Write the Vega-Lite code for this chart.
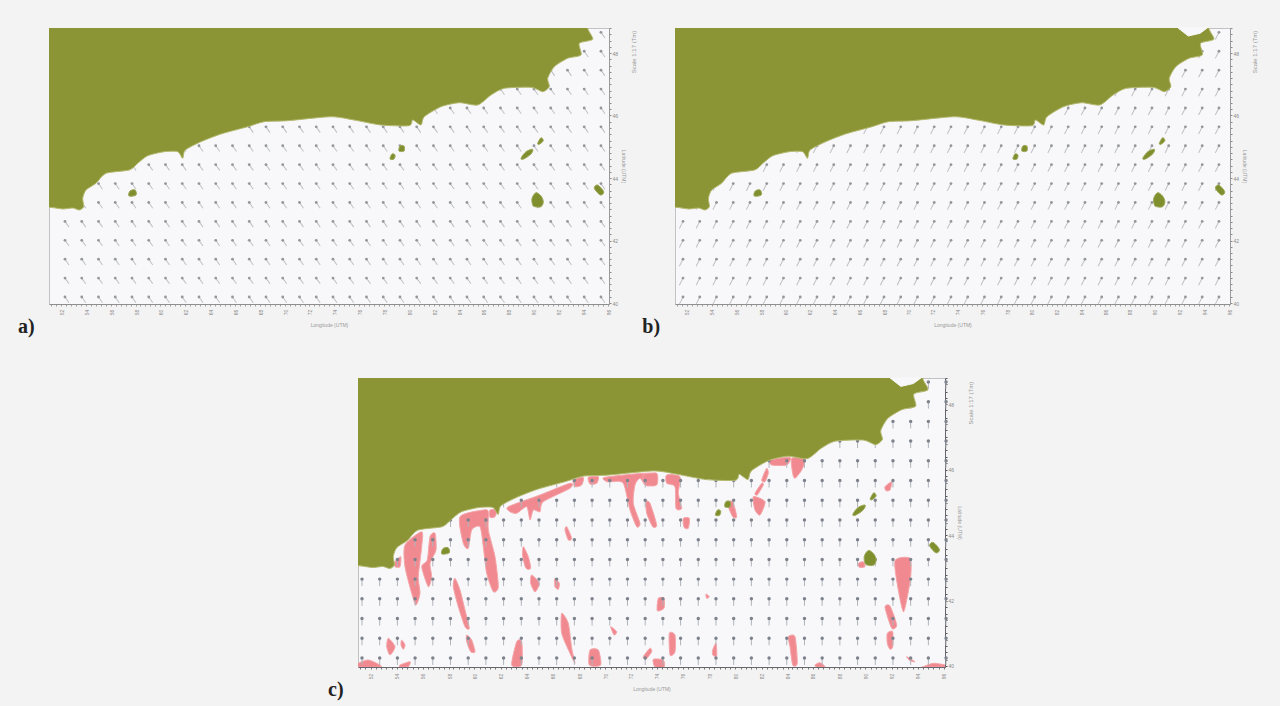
{"$schema":"https://vega.github.io/schema/vega-lite/v6.json","background":"#f3f3f3","padding":{"left":17,"top":25,"right":60,"bottom":20},"config":{"view":{"stroke":"#c2c2c4","fill":"#f8f8fa"},"axis":{"grid":false,"labelOverlap":false,"labelBound":false,"labelFlush":false}},
"datasets":{
"grid":[{"k":0,"j":0},{"k":1,"j":0},{"k":2,"j":0},{"k":3,"j":0},{"k":4,"j":0},{"k":5,"j":0},{"k":6,"j":0},{"k":7,"j":0},{"k":8,"j":0},{"k":9,"j":0},{"k":10,"j":0},{"k":11,"j":0},{"k":12,"j":0},{"k":13,"j":0},{"k":14,"j":0},{"k":15,"j":0},{"k":16,"j":0},{"k":17,"j":0},{"k":18,"j":0},{"k":19,"j":0},{"k":20,"j":0},{"k":21,"j":0},{"k":22,"j":0},{"k":23,"j":0},{"k":24,"j":0},{"k":25,"j":0},{"k":26,"j":0},{"k":27,"j":0},{"k":28,"j":0},{"k":29,"j":0},{"k":30,"j":0},{"k":31,"j":0},{"k":32,"j":0},{"k":33,"j":0},
{"k":0,"j":1},{"k":1,"j":1},{"k":2,"j":1},{"k":3,"j":1},{"k":4,"j":1},{"k":5,"j":1},{"k":6,"j":1},{"k":7,"j":1},{"k":8,"j":1},{"k":9,"j":1},{"k":10,"j":1},{"k":11,"j":1},{"k":12,"j":1},{"k":13,"j":1},{"k":14,"j":1},{"k":15,"j":1},{"k":16,"j":1},{"k":17,"j":1},{"k":18,"j":1},{"k":19,"j":1},{"k":20,"j":1},{"k":21,"j":1},{"k":22,"j":1},{"k":23,"j":1},{"k":24,"j":1},{"k":25,"j":1},{"k":26,"j":1},{"k":27,"j":1},{"k":28,"j":1},{"k":29,"j":1},{"k":30,"j":1},{"k":31,"j":1},{"k":32,"j":1},{"k":33,"j":1},
{"k":0,"j":2},{"k":1,"j":2},{"k":2,"j":2},{"k":3,"j":2},{"k":4,"j":2},{"k":5,"j":2},{"k":6,"j":2},{"k":7,"j":2},{"k":8,"j":2},{"k":9,"j":2},{"k":10,"j":2},{"k":11,"j":2},{"k":12,"j":2},{"k":13,"j":2},{"k":14,"j":2},{"k":15,"j":2},{"k":16,"j":2},{"k":17,"j":2},{"k":18,"j":2},{"k":19,"j":2},{"k":20,"j":2},{"k":21,"j":2},{"k":22,"j":2},{"k":23,"j":2},{"k":24,"j":2},{"k":25,"j":2},{"k":26,"j":2},{"k":27,"j":2},{"k":28,"j":2},{"k":29,"j":2},{"k":30,"j":2},{"k":31,"j":2},{"k":32,"j":2},{"k":33,"j":2},
{"k":0,"j":3},{"k":1,"j":3},{"k":2,"j":3},{"k":3,"j":3},{"k":4,"j":3},{"k":5,"j":3},{"k":6,"j":3},{"k":7,"j":3},{"k":8,"j":3},{"k":9,"j":3},{"k":10,"j":3},{"k":11,"j":3},{"k":12,"j":3},{"k":13,"j":3},{"k":14,"j":3},{"k":15,"j":3},{"k":16,"j":3},{"k":17,"j":3},{"k":18,"j":3},{"k":19,"j":3},{"k":20,"j":3},{"k":21,"j":3},{"k":22,"j":3},{"k":23,"j":3},{"k":24,"j":3},{"k":25,"j":3},{"k":26,"j":3},{"k":27,"j":3},{"k":28,"j":3},{"k":29,"j":3},{"k":30,"j":3},{"k":31,"j":3},{"k":32,"j":3},{"k":33,"j":3},
{"k":0,"j":4},{"k":1,"j":4},{"k":2,"j":4},{"k":3,"j":4},{"k":4,"j":4},{"k":5,"j":4},{"k":6,"j":4},{"k":7,"j":4},{"k":8,"j":4},{"k":9,"j":4},{"k":10,"j":4},{"k":11,"j":4},{"k":12,"j":4},{"k":13,"j":4},{"k":14,"j":4},{"k":15,"j":4},{"k":16,"j":4},{"k":17,"j":4},{"k":18,"j":4},{"k":19,"j":4},{"k":20,"j":4},{"k":21,"j":4},{"k":22,"j":4},{"k":23,"j":4},{"k":24,"j":4},{"k":25,"j":4},{"k":26,"j":4},{"k":27,"j":4},{"k":28,"j":4},{"k":29,"j":4},{"k":30,"j":4},{"k":31,"j":4},{"k":32,"j":4},{"k":33,"j":4},
{"k":1,"j":5},{"k":2,"j":5},{"k":3,"j":5},{"k":4,"j":5},{"k":5,"j":5},{"k":6,"j":5},{"k":7,"j":5},{"k":8,"j":5},{"k":9,"j":5},{"k":10,"j":5},{"k":11,"j":5},{"k":12,"j":5},{"k":13,"j":5},{"k":14,"j":5},{"k":15,"j":5},{"k":16,"j":5},{"k":17,"j":5},{"k":18,"j":5},{"k":19,"j":5},{"k":20,"j":5},{"k":21,"j":5},{"k":22,"j":5},{"k":23,"j":5},{"k":24,"j":5},{"k":25,"j":5},{"k":26,"j":5},{"k":27,"j":5},{"k":28,"j":5},{"k":29,"j":5},{"k":30,"j":5},{"k":31,"j":5},{"k":32,"j":5},{"k":33,"j":5},
{"k":2,"j":6},{"k":3,"j":6},{"k":4,"j":6},{"k":5,"j":6},{"k":6,"j":6},{"k":7,"j":6},{"k":8,"j":6},{"k":9,"j":6},{"k":10,"j":6},{"k":11,"j":6},{"k":12,"j":6},{"k":13,"j":6},{"k":14,"j":6},{"k":15,"j":6},{"k":16,"j":6},{"k":17,"j":6},{"k":18,"j":6},{"k":19,"j":6},{"k":20,"j":6},{"k":21,"j":6},{"k":22,"j":6},{"k":23,"j":6},{"k":24,"j":6},{"k":25,"j":6},{"k":26,"j":6},{"k":27,"j":6},{"k":28,"j":6},{"k":29,"j":6},{"k":30,"j":6},{"k":31,"j":6},{"k":32,"j":6},{"k":33,"j":6},
{"k":4,"j":7},{"k":5,"j":7},{"k":6,"j":7},{"k":7,"j":7},{"k":8,"j":7},{"k":9,"j":7},{"k":10,"j":7},{"k":11,"j":7},{"k":12,"j":7},{"k":13,"j":7},{"k":14,"j":7},{"k":15,"j":7},{"k":16,"j":7},{"k":17,"j":7},{"k":18,"j":7},{"k":19,"j":7},{"k":20,"j":7},{"k":21,"j":7},{"k":22,"j":7},{"k":23,"j":7},{"k":24,"j":7},{"k":25,"j":7},{"k":26,"j":7},{"k":27,"j":7},{"k":28,"j":7},{"k":29,"j":7},{"k":30,"j":7},{"k":31,"j":7},{"k":32,"j":7},{"k":33,"j":7},
{"k":7,"j":8},{"k":8,"j":8},{"k":9,"j":8},{"k":10,"j":8},{"k":11,"j":8},{"k":12,"j":8},{"k":13,"j":8},{"k":14,"j":8},{"k":15,"j":8},{"k":16,"j":8},{"k":17,"j":8},{"k":18,"j":8},{"k":19,"j":8},{"k":20,"j":8},{"k":21,"j":8},{"k":22,"j":8},{"k":23,"j":8},{"k":24,"j":8},{"k":25,"j":8},{"k":26,"j":8},{"k":27,"j":8},{"k":28,"j":8},{"k":29,"j":8},{"k":30,"j":8},{"k":31,"j":8},{"k":32,"j":8},{"k":33,"j":8},
{"k":11,"j":9},{"k":12,"j":9},{"k":13,"j":9},{"k":14,"j":9},{"k":15,"j":9},{"k":16,"j":9},{"k":17,"j":9},{"k":18,"j":9},{"k":19,"j":9},{"k":20,"j":9},{"k":21,"j":9},{"k":22,"j":9},{"k":23,"j":9},{"k":24,"j":9},{"k":25,"j":9},{"k":26,"j":9},{"k":27,"j":9},{"k":28,"j":9},{"k":29,"j":9},{"k":30,"j":9},{"k":31,"j":9},{"k":32,"j":9},{"k":33,"j":9},
{"k":22,"j":10},{"k":23,"j":10},{"k":24,"j":10},{"k":25,"j":10},{"k":26,"j":10},{"k":27,"j":10},{"k":28,"j":10},{"k":29,"j":10},{"k":30,"j":10},{"k":31,"j":10},{"k":32,"j":10},{"k":33,"j":10},
{"k":25,"j":11},{"k":26,"j":11},{"k":27,"j":11},{"k":28,"j":11},{"k":29,"j":11},{"k":30,"j":11},{"k":31,"j":11},{"k":32,"j":11},{"k":33,"j":11},
{"k":28,"j":12},{"k":29,"j":12},{"k":30,"j":12},{"k":31,"j":12},{"k":32,"j":12},{"k":33,"j":12},
{"k":30,"j":13},{"k":31,"j":13},{"k":32,"j":13},{"k":33,"j":13},
{"k":32,"j":14},{"k":33,"j":14}],
"land":[{"i":-1,"x":-30,"y":96.7},{"i":0,"x":0,"y":96.7},{"i":1,"x":13.7,"y":95},{"i":2,"x":23.7,"y":96},{"i":3,"x":30.3,"y":94},{"i":4,"x":34.7,"y":97.3},{"i":5,"x":33.7,"y":105.7},{"i":6,"x":37,"y":114},{"i":7,"x":47,"y":120.7},{"i":8,"x":57,"y":130.7},{"i":9,"x":80.3,"y":134},{"i":10,"x":88.7,"y":140.7},{"i":11,"x":98.7,"y":148.3},{"i":12,"x":115.3,"y":152.3},{"i":13,"x":128.7,"y":152.3},{"i":14,"x":133.7,"y":145.7},{"i":15,"x":136.3,"y":154},{"i":16,"x":152,"y":162.3},{"i":17,"x":172,"y":170},{"i":18,"x":198.7,"y":177.3},{"i":19,"x":215.3,"y":182.3},{"i":20,"x":238.7,"y":183.3},{"i":21,"x":282,"y":187.3},{"i":22,"x":305,"y":184},{"i":23,"x":332,"y":179},{"i":24,"x":360,"y":178.3},{"i":25,"x":363.7,"y":184},{"i":26,"x":372,"y":179},{"i":27,"x":375.3,"y":187.3},{"i":28,"x":392,"y":197.3},{"i":29,"x":410.3,"y":201.3},{"i":30,"x":428.7,"y":199},{"i":31,"x":442,"y":209},{"i":32,"x":455.3,"y":215.7},{"i":33,"x":482,"y":216.7},{"i":34,"x":493.7,"y":212.3},{"i":35,"x":500.3,"y":217.3},{"i":36,"x":498.7,"y":225.7},{"i":37,"x":505.3,"y":237.3},{"i":38,"x":518.7,"y":245.7},{"i":39,"x":532,"y":249},{"i":40,"x":530.3,"y":260.7},{"i":41,"x":543.7,"y":264.7},{"i":42,"x":538.7,"y":276},{"i":43,"x":540,"y":295},{"i":44,"x":-30,"y":295}],
"bay":[{"i":0,"x":507.7,"y":276},{"i":1,"x":517.9,"y":268},{"i":2,"x":529.8,"y":270.7},{"i":3,"x":537,"y":276}],
"islands":[{"id":1,"i":0,"x":80,"y":108},{"id":1,"i":1,"x":81,"y":113},{"id":1,"i":2,"x":86,"y":114},{"id":1,"i":3,"x":87,"y":109},{"id":2,"i":0,"x":350,"y":153},{"id":2,"i":1,"x":351,"y":158},{"id":2,"i":2,"x":355,"y":158},{"id":2,"i":3,"x":355,"y":153},{"id":3,"i":0,"x":341,"y":145},{"id":3,"i":1,"x":343,"y":150},{"id":3,"i":2,"x":346,"y":149},{"id":3,"i":3,"x":345,"y":145},{"id":4,"i":0,"x":472,"y":145.7},{"id":4,"i":1,"x":477,"y":152.3},{"id":4,"i":2,"x":483.7,"y":154.7},{"id":4,"i":3,"x":482,"y":150},{"id":4,"i":4,"x":474.7,"y":145},{"id":5,"i":0,"x":488.7,"y":160.7},{"id":5,"i":1,"x":492,"y":166.3},{"id":5,"i":2,"x":494.3,"y":163.3},{"id":5,"i":3,"x":490.3,"y":159.7},{"id":6,"i":0,"x":483.7,"y":99},{"id":6,"i":1,"x":483,"y":105.7},{"id":6,"i":2,"x":487,"y":111.3},{"id":6,"i":3,"x":492,"y":108},{"id":6,"i":4,"x":494.3,"y":102.3},{"id":6,"i":5,"x":492,"y":97.3},{"id":6,"i":6,"x":486,"y":97.3},{"id":7,"i":0,"x":545.3,"y":115.7},{"id":7,"i":1,"x":548.7,"y":119},{"id":7,"i":2,"x":554.7,"y":112.3},{"id":7,"i":3,"x":551.3,"y":109}],
"pink":[{"id":1,"i":0,"x":47,"y":122},{"id":1,"i":1,"x":63.7,"y":135.3},{"id":1,"i":2,"x":63.7,"y":120.3},{"id":1,"i":3,"x":60.3,"y":90.3},{"id":1,"i":4,"x":62,"y":73.7},{"id":1,"i":5,"x":58,"y":62},{"id":1,"i":6,"x":53.7,"y":73.7},{"id":1,"i":7,"x":47,"y":100.3},
{"id":2,"i":0,"x":72,"y":130.3},{"id":2,"i":1,"x":77,"y":133.7},{"id":2,"i":2,"x":78,"y":117},{"id":2,"i":3,"x":72,"y":103.7},{"id":2,"i":4,"x":73.7,"y":90.3},{"id":2,"i":5,"x":70.3,"y":80.3},{"id":2,"i":6,"x":63.7,"y":100.3},{"id":2,"i":7,"x":69.3,"y":107},
{"id":3,"i":0,"x":37,"y":105.3},{"id":3,"i":1,"x":42.7,"y":110.3},{"id":3,"i":2,"x":42,"y":100.3},{"id":3,"i":3,"x":37,"y":100.3},
{"id":4,"i":0,"x":102,"y":150.3},{"id":4,"i":1,"x":125.3,"y":157},{"id":4,"i":2,"x":130.3,"y":155.3},{"id":4,"i":3,"x":130.3,"y":137},{"id":4,"i":4,"x":137,"y":110.3},{"id":4,"i":5,"x":140.3,"y":80.3},{"id":4,"i":6,"x":135.3,"y":75.3},{"id":4,"i":7,"x":128.7,"y":93.7},{"id":4,"i":8,"x":125.3,"y":120.3},{"id":4,"i":9,"x":122,"y":140.3},{"id":4,"i":10,"x":113.7,"y":137},{"id":4,"i":11,"x":110.3,"y":118.7},{"id":4,"i":12,"x":105.3,"y":123.7},
{"id":5,"i":0,"x":132,"y":157},{"id":5,"i":1,"x":138.7,"y":157},{"id":5,"i":2,"x":137,"y":150.3},{"id":5,"i":3,"x":132,"y":149.7},
{"id":6,"i":0,"x":150.3,"y":160.3},{"id":6,"i":1,"x":182,"y":172},{"id":6,"i":2,"x":212,"y":183.7},{"id":6,"i":3,"x":212,"y":178.7},{"id":6,"i":4,"x":185.3,"y":165.3},{"id":6,"i":5,"x":182,"y":155.3},{"id":6,"i":6,"x":175.3,"y":157},{"id":6,"i":7,"x":172,"y":147},{"id":6,"i":8,"x":168.7,"y":160.3},{"id":6,"i":9,"x":158.7,"y":153.7},{"id":6,"i":10,"x":152,"y":155.3},
{"id":7,"i":0,"x":215.3,"y":187},{"id":7,"i":1,"x":225.3,"y":189.7},{"id":7,"i":2,"x":223.7,"y":182},{"id":7,"i":3,"x":217,"y":180.3},
{"id":8,"i":0,"x":230.3,"y":189.7},{"id":8,"i":1,"x":240.3,"y":190.3},{"id":8,"i":2,"x":238.7,"y":183.7},{"id":8,"i":3,"x":232,"y":183},
{"id":9,"i":0,"x":247,"y":189.7},{"id":9,"i":1,"x":292,"y":193.7},{"id":9,"i":2,"x":292,"y":182},{"id":9,"i":3,"x":287,"y":182},{"id":9,"i":4,"x":282,"y":188.7},{"id":9,"i":5,"x":277,"y":182},{"id":9,"i":6,"x":275.3,"y":163.7},{"id":9,"i":7,"x":282,"y":143.7},{"id":9,"i":8,"x":278.7,"y":140.3},{"id":9,"i":9,"x":272,"y":157},{"id":9,"i":10,"x":265.3,"y":183.7},{"id":9,"i":11,"x":253.7,"y":185.3},{"id":9,"i":12,"x":248.7,"y":185.3},
{"id":10,"i":0,"x":288,"y":165.3},{"id":10,"i":1,"x":292,"y":163.7},{"id":10,"i":2,"x":298.7,"y":142},{"id":10,"i":3,"x":294.7,"y":140.3},{"id":10,"i":4,"x":288.7,"y":153.7},
{"id":11,"i":0,"x":208.7,"y":140.3},{"id":11,"i":1,"x":213.7,"y":128.7},{"id":11,"i":2,"x":210.3,"y":127},{"id":11,"i":3,"x":207,"y":137},
{"id":12,"i":0,"x":165.3,"y":120.3},{"id":12,"i":1,"x":170.3,"y":110.3},{"id":12,"i":2,"x":172.7,"y":98.7},{"id":12,"i":3,"x":168,"y":98.7},{"id":12,"i":4,"x":164.7,"y":110.3},
{"id":13,"i":0,"x":173.7,"y":92},{"id":13,"i":1,"x":181.3,"y":83.7},{"id":13,"i":2,"x":177,"y":75},{"id":13,"i":3,"x":172.7,"y":83.7},
{"id":14,"i":0,"x":197,"y":88.7},{"id":14,"i":1,"x":201.3,"y":83.7},{"id":14,"i":2,"x":200.3,"y":77.7},{"id":14,"i":3,"x":197,"y":80.3},
{"id":15,"i":0,"x":97,"y":88.7},{"id":15,"i":1,"x":102,"y":77},{"id":15,"i":2,"x":107,"y":57},{"id":15,"i":3,"x":111.3,"y":38.7},{"id":15,"i":4,"x":107,"y":40.3},{"id":15,"i":5,"x":100.3,"y":60.3},{"id":15,"i":6,"x":95.3,"y":80.3},
{"id":16,"i":0,"x":108.7,"y":32},{"id":16,"i":1,"x":113.7,"y":27},{"id":16,"i":2,"x":117,"y":15.3},{"id":16,"i":3,"x":112.7,"y":15.3},{"id":16,"i":4,"x":108.7,"y":25.3},
{"id":17,"i":0,"x":30.3,"y":28.7},{"id":17,"i":1,"x":37,"y":20.3},{"id":17,"i":2,"x":32,"y":12},{"id":17,"i":3,"x":28.7,"y":20.3},
{"id":18,"i":0,"x":43.7,"y":27},{"id":18,"i":1,"x":47,"y":22},{"id":18,"i":2,"x":45.3,"y":17.7},{"id":18,"i":3,"x":43,"y":22},
{"id":19,"i":0,"x":0.3,"y":3.7},{"id":19,"i":1,"x":10.3,"y":7},{"id":19,"i":2,"x":22,"y":2},{"id":19,"i":3,"x":22,"y":0},{"id":19,"i":4,"x":0,"y":0},
{"id":20,"i":0,"x":153.7,"y":2},{"id":20,"i":1,"x":158.7,"y":25.3},{"id":20,"i":2,"x":163.7,"y":25.3},{"id":20,"i":3,"x":163.7,"y":2},
{"id":21,"i":0,"x":203.7,"y":53.7},{"id":21,"i":1,"x":210.3,"y":43.7},{"id":21,"i":2,"x":213.7,"y":18.7},{"id":21,"i":3,"x":217,"y":3.7},{"id":21,"i":4,"x":212,"y":13.7},{"id":21,"i":5,"x":203.7,"y":33.7},
{"id":22,"i":0,"x":232,"y":17},{"id":22,"i":1,"x":240.3,"y":17},{"id":22,"i":2,"x":242.7,"y":2},{"id":22,"i":3,"x":231.3,"y":2},
{"id":23,"i":0,"x":252.7,"y":40.3},{"id":23,"i":1,"x":258.7,"y":35.3},{"id":23,"i":2,"x":256,"y":32},
{"id":25,"i":0,"x":42,"y":2},{"id":25,"i":1,"x":52,"y":5.3},{"id":25,"i":2,"x":50.3,"y":0.3},{"id":25,"i":3,"x":42,"y":0},
{"id":26,"i":0,"x":285.3,"y":192},{"id":26,"i":1,"x":298.7,"y":193.7},{"id":26,"i":2,"x":298.7,"y":182},{"id":26,"i":3,"x":287,"y":182},
{"id":27,"i":0,"x":308.7,"y":192},{"id":27,"i":1,"x":322,"y":190.3},{"id":27,"i":2,"x":320.3,"y":173.7},{"id":27,"i":3,"x":323.7,"y":158.7},{"id":27,"i":4,"x":318,"y":158.7},{"id":27,"i":5,"x":317,"y":180.3},{"id":27,"i":6,"x":308.7,"y":183.7},
{"id":29,"i":0,"x":325.3,"y":148.7},{"id":29,"i":1,"x":331.3,"y":148.7},{"id":29,"i":2,"x":330.3,"y":138.7},{"id":29,"i":3,"x":326,"y":139.7},
{"id":30,"i":0,"x":369.3,"y":163.7},{"id":30,"i":1,"x":374.7,"y":165.3},{"id":30,"i":2,"x":378.7,"y":150.3},{"id":30,"i":3,"x":374.7,"y":150.3},
{"id":31,"i":0,"x":395.3,"y":170.3},{"id":31,"i":1,"x":407,"y":165.3},{"id":31,"i":2,"x":402,"y":152},{"id":31,"i":3,"x":397,"y":157},
{"id":32,"i":0,"x":403.7,"y":187},{"id":32,"i":1,"x":408.7,"y":198.7},{"id":32,"i":2,"x":410.3,"y":193.7},{"id":32,"i":3,"x":407,"y":185.3},
{"id":50,"i":0,"x":397,"y":173.7},{"id":50,"i":1,"x":403.7,"y":183.7},{"id":50,"i":2,"x":405.3,"y":182},{"id":50,"i":3,"x":399.3,"y":172},
{"id":33,"i":0,"x":412,"y":207},{"id":33,"i":1,"x":432,"y":209.7},{"id":33,"i":2,"x":428.7,"y":202},{"id":33,"i":3,"x":413.7,"y":202},
{"id":34,"i":0,"x":433.7,"y":208.7},{"id":34,"i":1,"x":447,"y":207.7},{"id":34,"i":2,"x":443.7,"y":197},{"id":34,"i":3,"x":437,"y":188.7},{"id":34,"i":4,"x":434.7,"y":193.7},
{"id":35,"i":0,"x":527,"y":180.3},{"id":35,"i":1,"x":533.7,"y":185.3},{"id":35,"i":2,"x":532,"y":177},{"id":35,"i":3,"x":528,"y":176.3},
{"id":36,"i":0,"x":500.3,"y":103.7},{"id":36,"i":1,"x":505.3,"y":105.3},{"id":36,"i":2,"x":507,"y":100.3},{"id":36,"i":3,"x":501.3,"y":99.7},
{"id":37,"i":0,"x":537,"y":106.3},{"id":37,"i":1,"x":552,"y":108.7},{"id":37,"i":2,"x":552.7,"y":90.3},{"id":37,"i":3,"x":548.7,"y":67},{"id":37,"i":4,"x":545.3,"y":55.3},{"id":37,"i":5,"x":540.3,"y":77},
{"id":38,"i":0,"x":527,"y":59.7},{"id":38,"i":1,"x":532,"y":61},{"id":38,"i":2,"x":538.7,"y":42},{"id":38,"i":3,"x":533.7,"y":38.7},
{"id":39,"i":0,"x":529.3,"y":33.7},{"id":39,"i":1,"x":534.7,"y":35.3},{"id":39,"i":2,"x":534.7,"y":20.3},{"id":39,"i":3,"x":532,"y":17.7},{"id":39,"i":4,"x":529.3,"y":23.7},
{"id":40,"i":0,"x":430.3,"y":30.3},{"id":40,"i":1,"x":437,"y":30.3},{"id":40,"i":2,"x":439.3,"y":3.7},{"id":40,"i":3,"x":434.7,"y":2},{"id":40,"i":4,"x":432,"y":20.3},
{"id":41,"i":0,"x":300.3,"y":68.7},{"id":41,"i":1,"x":306,"y":68.7},{"id":41,"i":2,"x":306,"y":58.7},{"id":41,"i":3,"x":299.3,"y":56.3},
{"id":42,"i":0,"x":311.3,"y":33.7},{"id":42,"i":1,"x":317,"y":32},{"id":42,"i":2,"x":317,"y":15.3},{"id":42,"i":3,"x":312,"y":12},
{"id":43,"i":0,"x":285.3,"y":10.3},{"id":43,"i":1,"x":292,"y":18.7},{"id":43,"i":2,"x":293.7,"y":15.3},{"id":43,"i":3,"x":288,"y":7.7},
{"id":44,"i":0,"x":295.3,"y":7.7},{"id":44,"i":1,"x":305.3,"y":7},{"id":44,"i":2,"x":306,"y":0},{"id":44,"i":3,"x":297,"y":0},
{"id":45,"i":0,"x":354.7,"y":17},{"id":45,"i":1,"x":358,"y":23.7},{"id":45,"i":2,"x":358.7,"y":11},{"id":45,"i":3,"x":354.7,"y":12},
{"id":46,"i":0,"x":457,"y":2},{"id":46,"i":1,"x":462,"y":4.3},{"id":46,"i":2,"x":467,"y":0.3},{"id":46,"i":3,"x":458.7,"y":0},
{"id":47,"i":0,"x":565.3,"y":0.3},{"id":47,"i":1,"x":575.3,"y":3.7},{"id":47,"i":2,"x":587,"y":2},{"id":47,"i":3,"x":587,"y":0},{"id":47,"i":4,"x":565.3,"y":0},
{"id":48,"i":0,"x":548.7,"y":10.3},{"id":48,"i":1,"x":557,"y":5.3},{"id":48,"i":2,"x":552,"y":6.3},
{"id":49,"i":0,"x":348,"y":73},{"id":49,"i":1,"x":351.3,"y":70.3},{"id":49,"i":2,"x":348.7,"y":68.7}]
},
"spacing":37,
"vconcat":[{"spacing":3,"hconcat":[
{"width":560,"height":276,"resolve":{"scale":{"x":"independent","y":"independent"}},"layer":[
{"data":{"name":"grid"},"transform":[{"filter":"datum.k<33"}],"mark":{"type":"point","shape":"M0,0L0,1","size":196,"angle":325,"stroke":"#bfc0c4","strokeWidth":1,"filled":false,"opacity":1},"encoding":{"x":{"field":"k","type":"quantitative","scale":{"domain":[-0.955,32.48],"nice":false,"zero":false},"axis":null},"y":{"field":"j","type":"quantitative","scale":{"domain":[-0.37,14.23],"nice":false,"zero":false},"axis":null}}},
{"data":{"name":"grid"},"transform":[{"filter":"datum.k<33"}],"mark":{"type":"circle","size":8,"color":"#94979c","opacity":1},"encoding":{"x":{"field":"k","type":"quantitative","scale":{"domain":[-0.955,32.48],"nice":false,"zero":false},"axis":null},"y":{"field":"j","type":"quantitative","scale":{"domain":[-0.37,14.23],"nice":false,"zero":false},"axis":null}}},
{"data":{"name":"land"},"mark":{"type":"line","clip":true,"filled":true,"fill":"#8c9536","stroke":"#b4b970","strokeWidth":1,"interpolate":"cardinal-closed","tension":0.3},"encoding":{"order":{"field":"i"},"x":{"field":"x","type":"quantitative","scale":{"domain":[0,560],"nice":false,"zero":false},"axis":{"orient":"bottom","title":"Longitude (UTM)","titleFontSize":5,"titleColor":"#999999","titleFontWeight":"normal","titlePadding":8,"domainColor":"#8f8f8f","tickColor":"#a0a0a0","tickSize":2,"labelFontSize":5,"labelColor":"#8a8a8a","labelAngle":270,"labelPadding":6,"labelAlign":"center","labelBaseline":"middle","values":[2,7,12,17,22,27,32,37,42,47,52,57,62,67,72,77,82,87,91,96,101,106,111,116,121,126,131,136,141,146,151,156,161,166,171,176,181,186,191,196,201,206,211,216,221,226,231,236,241,246,251,256,260,265,270,275,280,285,290,295,300,305,310,315,320,325,330,335,340,345,350,355,360,365,370,375,380,385,390,395,400,405,410,414,419,424,429,434,439,444,449,454,459,464,469,474,479,484,489,494,499,504,509,514,519,524,529,534,539,544,549,554,559],"labelExpr":"round(datum.index*112)%5==2 ? format(52+2*floor(round(datum.index*112)/5),'d') : ''"}},"y":{"field":"y","type":"quantitative","scale":{"domain":[0,276],"nice":false,"zero":false},"axis":{"orient":"right","title":"Latitude (UTM)","titleFontSize":5,"titleColor":"#999999","titleFontWeight":"normal","titlePadding":3,"domainColor":"#9a9a9c","tickColor":"#8a8a8c","tickSize":2,"labelFontSize":5,"labelColor":"#8a8a8a","labelPadding":1,"values":[1,7,14,20,26,32,39,45,51,57,63.5,70,76,82,88,95,101,107,113,120,126,132,138,145,151,157,163,170,176,182,188.5,195,201,207,213,220,226,232,238,245,251,257,263,270,276],"labelExpr":"round(datum.index*44)%10==0 ? format(40+2*round(datum.index*44)/10,'d') : ''"}}}},
{"data":{"name":"islands"},"mark":{"type":"line","filled":true,"fill":"#7f8f2e","stroke":"#a0a85a","strokeWidth":1,"interpolate":"cardinal-closed"},"encoding":{"detail":{"field":"id"},"order":{"field":"i"},"x":{"field":"x","type":"quantitative","scale":{"domain":[0,560],"nice":false,"zero":false},"axis":null},"y":{"field":"y","type":"quantitative","scale":{"domain":[0,276],"nice":false,"zero":false},"axis":null}}},
{"data":{"values":[{"x":585,"y":252,"t":"Scale 1:17 (Tm)"}]},"mark":{"type":"text","angle":270,"fontSize":6,"color":"#999999"},"encoding":{"text":{"field":"t"},"x":{"field":"x","type":"quantitative","scale":{"domain":[0,560],"nice":false,"zero":false},"axis":null},"y":{"field":"y","type":"quantitative","scale":{"domain":[0,276],"nice":false,"zero":false},"axis":null}}},
{"data":{"values":[{"x":-31,"y":-23,"t":"a)"}]},"mark":{"type":"text","align":"left","baseline":"middle","font":"Liberation Serif","fontSize":20,"fontWeight":"bold","color":"#222222"},"encoding":{"text":{"field":"t"},"x":{"field":"x","type":"quantitative","scale":{"domain":[0,560],"nice":false,"zero":false},"axis":null},"y":{"field":"y","type":"quantitative","scale":{"domain":[0,276],"nice":false,"zero":false},"axis":null}}}
]},
{"width":555,"height":276,"resolve":{"scale":{"x":"independent","y":"independent"}},"layer":[
{"data":{"name":"grid"},"transform":[{"filter":"datum.k<33"}],"mark":{"type":"point","shape":"M0,0L0,1","size":256,"angle":27,"stroke":"#bfc0c4","strokeWidth":1,"filled":false,"opacity":1},"encoding":{"x":{"field":"k","type":"quantitative","scale":{"domain":[-0.478,32.66],"nice":false,"zero":false},"axis":null},"y":{"field":"j","type":"quantitative","scale":{"domain":[-0.37,14.23],"nice":false,"zero":false},"axis":null}}},
{"data":{"name":"grid"},"transform":[{"filter":"datum.k<33"}],"mark":{"type":"circle","size":8,"color":"#94979c","opacity":1},"encoding":{"x":{"field":"k","type":"quantitative","scale":{"domain":[-0.478,32.66],"nice":false,"zero":false},"axis":null},"y":{"field":"j","type":"quantitative","scale":{"domain":[-0.37,14.23],"nice":false,"zero":false},"axis":null}}},
{"data":{"name":"land"},"mark":{"type":"line","clip":true,"filled":true,"fill":"#8c9536","stroke":"#b4b970","strokeWidth":1,"interpolate":"cardinal-closed","tension":0.3},"encoding":{"order":{"field":"i"},"x":{"field":"x","type":"quantitative","scale":{"domain":[0,560],"nice":false,"zero":false},"axis":{"orient":"bottom","title":"Longitude (UTM)","titleFontSize":5,"titleColor":"#999999","titleFontWeight":"normal","titlePadding":8,"domainColor":"#8f8f8f","tickColor":"#a0a0a0","tickSize":2,"labelFontSize":5,"labelColor":"#8a8a8a","labelAngle":270,"labelPadding":6,"labelAlign":"center","labelBaseline":"middle","values":[2,7,12,17,22,27,32,37,42,47,52,57,62,67,72,77,82,87,91,96,101,106,111,116,121,126,131,136,141,146,151,156,161,166,171,176,181,186,191,196,201,206,211,216,221,226,231,236,241,246,251,256,260,265,270,275,280,285,290,295,300,305,310,315,320,325,330,335,340,345,350,355,360,365,370,375,380,385,390,395,400,405,410,414,419,424,429,434,439,444,449,454,459,464,469,474,479,484,489,494,499,504,509,514,519,524,529,534,539,544,549,554,559],"labelExpr":"round(datum.index*112)%5==2 ? format(52+2*floor(round(datum.index*112)/5),'d') : ''"}},"y":{"field":"y","type":"quantitative","scale":{"domain":[0,276],"nice":false,"zero":false},"axis":{"orient":"right","title":"Latitude (UTM)","titleFontSize":5,"titleColor":"#999999","titleFontWeight":"normal","titlePadding":3,"domainColor":"#9a9a9c","tickColor":"#8a8a8c","tickSize":2,"labelFontSize":5,"labelColor":"#8a8a8a","labelPadding":1,"values":[1,7,14,20,26,32,39,45,51,57,63.5,70,76,82,88,95,101,107,113,120,126,132,138,145,151,157,163,170,176,182,188.5,195,201,207,213,220,226,232,238,245,251,257,263,270,276],"labelExpr":"round(datum.index*44)%10==0 ? format(40+2*round(datum.index*44)/10,'d') : ''"}}}},
{"data":{"name":"bay"},"mark":{"type":"line","filled":true,"fill":"#f8f8fa","stroke":"#f8f8fa","strokeWidth":1,"interpolate":"linear-closed"},"encoding":{"order":{"field":"i"},"x":{"field":"x","type":"quantitative","scale":{"domain":[0,560],"nice":false,"zero":false},"axis":null},"y":{"field":"y","type":"quantitative","scale":{"domain":[0,276],"nice":false,"zero":false},"axis":null}}},
{"data":{"name":"islands"},"mark":{"type":"line","filled":true,"fill":"#7f8f2e","stroke":"#a0a85a","strokeWidth":1,"interpolate":"cardinal-closed"},"encoding":{"detail":{"field":"id"},"order":{"field":"i"},"x":{"field":"x","type":"quantitative","scale":{"domain":[0,560],"nice":false,"zero":false},"axis":null},"y":{"field":"y","type":"quantitative","scale":{"domain":[0,276],"nice":false,"zero":false},"axis":null}}},
{"data":{"values":[{"x":585,"y":252,"t":"Scale 1:17 (Tm)"}]},"mark":{"type":"text","angle":270,"fontSize":6,"color":"#999999"},"encoding":{"text":{"field":"t"},"x":{"field":"x","type":"quantitative","scale":{"domain":[0,560],"nice":false,"zero":false},"axis":null},"y":{"field":"y","type":"quantitative","scale":{"domain":[0,276],"nice":false,"zero":false},"axis":null}}},
{"data":{"values":[{"x":-33,"y":-23,"t":"b)"}]},"mark":{"type":"text","align":"left","baseline":"middle","font":"Liberation Serif","fontSize":20,"fontWeight":"bold","color":"#222222"},"encoding":{"text":{"field":"t"},"x":{"field":"x","type":"quantitative","scale":{"domain":[0,560],"nice":false,"zero":false},"axis":null},"y":{"field":"y","type":"quantitative","scale":{"domain":[0,276],"nice":false,"zero":false},"axis":null}}}
]}
]},
{"spacing":0,"hconcat":[
{"width":278,"height":10,"view":{"stroke":null,"fill":null},"data":{"values":[{"k":0}]},"mark":{"type":"rule","opacity":0},"encoding":{}},
{"width":587,"height":289,"resolve":{"scale":{"x":"independent","y":"independent"}},"layer":[
{"data":{"name":"pink"},"mark":{"type":"line","clip":true,"filled":true,"fill":"#f08a90","stroke":"#f5a5a9","strokeWidth":1,"interpolate":"cardinal-closed","tension":0.3},"encoding":{"detail":{"field":"id"},"order":{"field":"i"},"x":{"field":"x","type":"quantitative","scale":{"domain":[0,587],"nice":false,"zero":false},"axis":null},"y":{"field":"y","type":"quantitative","scale":{"domain":[0,289],"nice":false,"zero":false},"axis":null}}},
{"data":{"name":"grid"},"mark":{"type":"point","shape":"M0,0L0,1","size":196,"angle":0,"stroke":"#b2b4ba","strokeWidth":1,"filled":false,"opacity":1},"encoding":{"x":{"field":"k","type":"quantitative","scale":{"domain":[-0.226,32.94],"nice":false,"zero":false},"axis":null},"y":{"field":"j","type":"quantitative","scale":{"domain":[-0.457,14.2],"nice":false,"zero":false},"axis":null}}},
{"data":{"name":"grid"},"mark":{"type":"circle","size":12,"color":"#7d828c","opacity":1},"encoding":{"x":{"field":"k","type":"quantitative","scale":{"domain":[-0.226,32.94],"nice":false,"zero":false},"axis":null},"y":{"field":"j","type":"quantitative","scale":{"domain":[-0.457,14.2],"nice":false,"zero":false},"axis":null}}},
{"data":{"name":"land"},"mark":{"type":"line","clip":true,"filled":true,"fill":"#8c9536","stroke":"#b4b970","strokeWidth":1,"interpolate":"cardinal-closed","tension":0.3},"encoding":{"order":{"field":"i"},"x":{"field":"x","type":"quantitative","scale":{"domain":[0,560],"nice":false,"zero":false},"axis":{"orient":"bottom","title":"Longitude (UTM)","titleFontSize":5,"titleColor":"#999999","titleFontWeight":"normal","titlePadding":8,"domainColor":"#66666c","tickColor":"#77777c","tickSize":2,"labelFontSize":5,"labelColor":"#8a8a8a","labelAngle":270,"labelPadding":7,"labelAlign":"center","labelBaseline":"middle","values":[2,7,12,17,22,27,32,37,42,47,52,57,62,67,72,77,82,87,91,96,101,106,111,116,121,126,131,136,141,146,151,156,161,166,171,176,181,186,191,196,201,206,211,216,221,226,231,236,241,246,251,256,260,265,270,275,280,285,290,295,300,305,310,315,320,325,330,335,340,345,350,355,360,365,370,375,380,385,390,395,400,405,410,414,419,424,429,434,439,444,449,454,459,464,469,474,479,484,489,494,499,504,509,514,519,524,529,534,539,544,549,554,559],"labelExpr":"round(datum.index*112)%5==2 ? format(52+2*floor(round(datum.index*112)/5),'d') : ''"}},"y":{"field":"y","type":"quantitative","scale":{"domain":[0,276],"nice":false,"zero":false},"axis":{"orient":"right","title":"Latitude (UTM)","titleFontSize":5,"titleColor":"#999999","titleFontWeight":"normal","titlePadding":3,"domainColor":"#66666c","tickColor":"#55555c","tickSize":2,"labelFontSize":5,"labelColor":"#8a8a8a","labelPadding":1,"values":[1,7,14,20,26,32,39,45,51,57,63.5,70,76,82,88,95,101,107,113,120,126,132,138,145,151,157,163,170,176,182,188.5,195,201,207,213,220,226,232,238,245,251,257,263,270,276],"labelExpr":"round(datum.index*44)%10==0 ? format(40+2*round(datum.index*44)/10,'d') : ''"}}}},
{"data":{"name":"bay"},"mark":{"type":"line","filled":true,"fill":"#f8f8fa","stroke":"#f8f8fa","strokeWidth":1,"interpolate":"linear-closed"},"encoding":{"order":{"field":"i"},"x":{"field":"x","type":"quantitative","scale":{"domain":[0,560],"nice":false,"zero":false},"axis":null},"y":{"field":"y","type":"quantitative","scale":{"domain":[0,276],"nice":false,"zero":false},"axis":null}}},
{"data":{"name":"islands"},"mark":{"type":"line","filled":true,"fill":"#7f8f2e","stroke":"#a0a85a","strokeWidth":1,"interpolate":"cardinal-closed"},"encoding":{"detail":{"field":"id"},"order":{"field":"i"},"x":{"field":"x","type":"quantitative","scale":{"domain":[0,560],"nice":false,"zero":false},"axis":null},"y":{"field":"y","type":"quantitative","scale":{"domain":[0,276],"nice":false,"zero":false},"axis":null}}},
{"data":{"values":[{"x":585,"y":252,"t":"Scale 1:17 (Tm)"}]},"mark":{"type":"text","angle":270,"fontSize":6,"color":"#999999"},"encoding":{"text":{"field":"t"},"x":{"field":"x","type":"quantitative","scale":{"domain":[0,560],"nice":false,"zero":false},"axis":null},"y":{"field":"y","type":"quantitative","scale":{"domain":[0,276],"nice":false,"zero":false},"axis":null}}},
{"data":{"values":[{"x":-28.6,"y":-22,"t":"c)"}]},"mark":{"type":"text","align":"left","baseline":"middle","font":"Liberation Serif","fontSize":20,"fontWeight":"bold","color":"#222222"},"encoding":{"text":{"field":"t"},"x":{"field":"x","type":"quantitative","scale":{"domain":[0,560],"nice":false,"zero":false},"axis":null},"y":{"field":"y","type":"quantitative","scale":{"domain":[0,276],"nice":false,"zero":false},"axis":null}}}
]}
]}]}
